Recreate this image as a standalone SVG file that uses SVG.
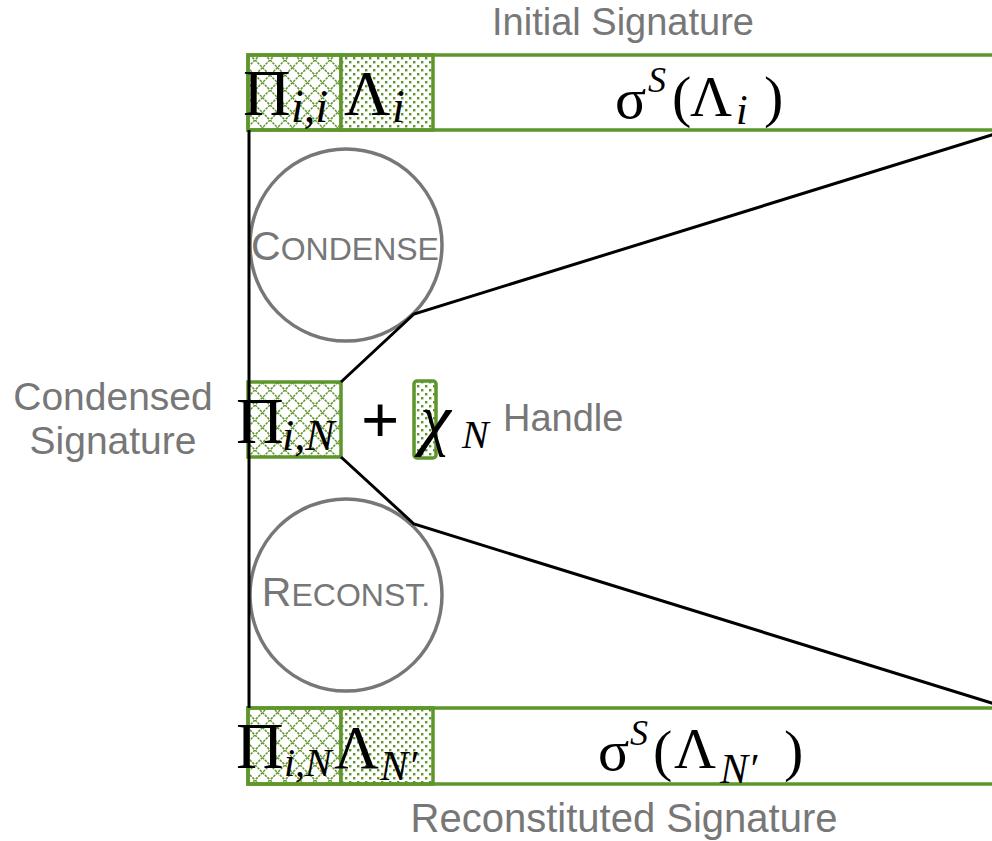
<svg xmlns="http://www.w3.org/2000/svg" width="992" height="841" viewBox="0 0 992 841">
  <style>
    .lbl { font-family: "Liberation Sans", Arial, sans-serif; fill: #777; }
    .m { font-family: "Liberation Serif", "DejaVu Serif", serif; fill: #000; }
    .i { font-style: italic; }
    .bar { fill: none; stroke: #5e962c; stroke-width: 3.5; }
    .cell { stroke: #5e962c; stroke-width: 3.5; }
    .circ { fill: none; stroke: #777; stroke-width: 3.5; }
    .conn { fill: none; stroke: #000; stroke-width: 3; stroke-linejoin: miter; }
  </style>
  <defs>
    <pattern id="cross" width="15" height="15" patternUnits="userSpaceOnUse">
      <rect width="15" height="15" fill="#fff"/>
      <path d="M0,0 L15,15 M15,0 L0,15" stroke="#5e962c" stroke-width="1.5" stroke-dasharray="2.5 1"/>
    </pattern>
    <pattern id="dots" width="8" height="8" patternUnits="userSpaceOnUse">
      <rect width="8" height="8" fill="#fff"/>
      <rect x="1" y="1" width="2.4" height="2.4" fill="#5e962c"/>
      <rect x="5" y="5" width="2.4" height="2.4" fill="#5e962c"/>
    </pattern>
  </defs>

  <!-- Initial signature bar -->
  <g id="initial-signature">
    <rect x="248" y="55" width="93" height="75" fill="url(#cross)" class="cell"/>
    <rect x="341" y="55" width="92" height="75" fill="url(#dots)" class="cell"/>
    <rect x="248" y="55" width="780" height="75" class="bar"/>
    <text class="m" font-size="66"><tspan x="243" y="115">Π</tspan><tspan class="i" x="291" y="122" font-size="46">i,i</tspan></text>
    <text class="m" font-size="64"><tspan x="344" y="115">Λ</tspan><tspan class="i" x="392" y="122" font-size="46">i</tspan></text>
    <text class="m" font-size="58"><tspan x="615" y="118">σ</tspan><tspan class="i" x="648" y="92" font-size="36">S</tspan><tspan x="672" y="116">(</tspan><tspan x="690" y="116">Λ</tspan><tspan class="i" x="736" y="124" font-size="42">i</tspan><tspan x="764" y="116">)</tspan></text>
    <text class="lbl" x="623" y="35" font-size="38" text-anchor="middle">Initial Signature</text>
  </g>

  <!-- Condense process -->
  <g id="condense">
    <circle cx="346" cy="245" r="96" class="circ"/>
    <text class="lbl" x="345" y="260" text-anchor="middle"><tspan font-size="41">C</tspan><tspan font-size="32">ONDENSE</tspan></text>
  </g>

  <!-- Condensed signature -->
  <g id="condensed-signature">
    <rect x="248" y="382" width="93" height="75" fill="url(#cross)" class="cell"/>
    <text class="m" font-size="66"><tspan x="236" y="443">Π</tspan><tspan class="i" x="282" y="450" font-size="44">i,N</tspan></text>
    <text class="m" x="380" y="443" font-size="68" font-weight="bold" text-anchor="middle">+</text>
    <text class="lbl" x="113" y="410" font-size="39" text-anchor="middle">Condensed</text>
    <text class="lbl" x="113" y="454" font-size="39" text-anchor="middle">Signature</text>
  </g>

  <!-- Handle -->
  <g id="handle">
    <rect x="414" y="381" width="22" height="77" rx="3" fill="url(#dots)" class="cell"/>
    <text class="m" font-size="70"><tspan class="i" x="420" y="442">χ</tspan><tspan class="i" x="462" y="448" font-size="40">N</tspan></text>
    <text class="lbl" x="503" y="431" font-size="38">Handle</text>
  </g>

  <!-- Reconstitute process -->
  <g id="reconstitute">
    <circle cx="346" cy="595" r="96" class="circ"/>
    <text class="lbl" x="346" y="606" text-anchor="middle"><tspan font-size="41">R</tspan><tspan font-size="32">ECONST.</tspan></text>
  </g>

  <!-- Reconstituted signature bar -->
  <g id="reconstituted-signature">
    <rect x="248" y="708" width="93" height="76" fill="url(#cross)" class="cell"/>
    <rect x="341" y="708" width="92" height="76" fill="url(#dots)" class="cell"/>
    <rect x="248" y="708" width="780" height="76" class="bar"/>
    <text class="m" font-size="66"><tspan x="236" y="768">Π</tspan><tspan class="i" x="284" y="776" font-size="40">i,N</tspan><tspan x="334" y="768" font-size="62">Λ</tspan><tspan class="i" x="380" y="780" font-size="42">N′</tspan></text>
    <text class="m" font-size="58"><tspan x="598" y="770">σ</tspan><tspan class="i" x="630" y="745" font-size="36">S</tspan><tspan x="653" y="770">(</tspan><tspan x="674" y="768">Λ</tspan><tspan class="i" x="720" y="783" font-size="42">N′</tspan><tspan x="784" y="770">)</tspan></text>
    <text class="lbl" x="624" y="832" font-size="40" text-anchor="middle">Reconstituted Signature</text>
  </g>

  <!-- Connectors -->
  <g id="connectors">
    <line x1="249" y1="130" x2="249" y2="708" class="conn"/>
    <polyline points="341,382 414,314 995,134" class="conn"/>
    <polyline points="341,457 414,524 995,704" class="conn"/>
  </g>
</svg>
